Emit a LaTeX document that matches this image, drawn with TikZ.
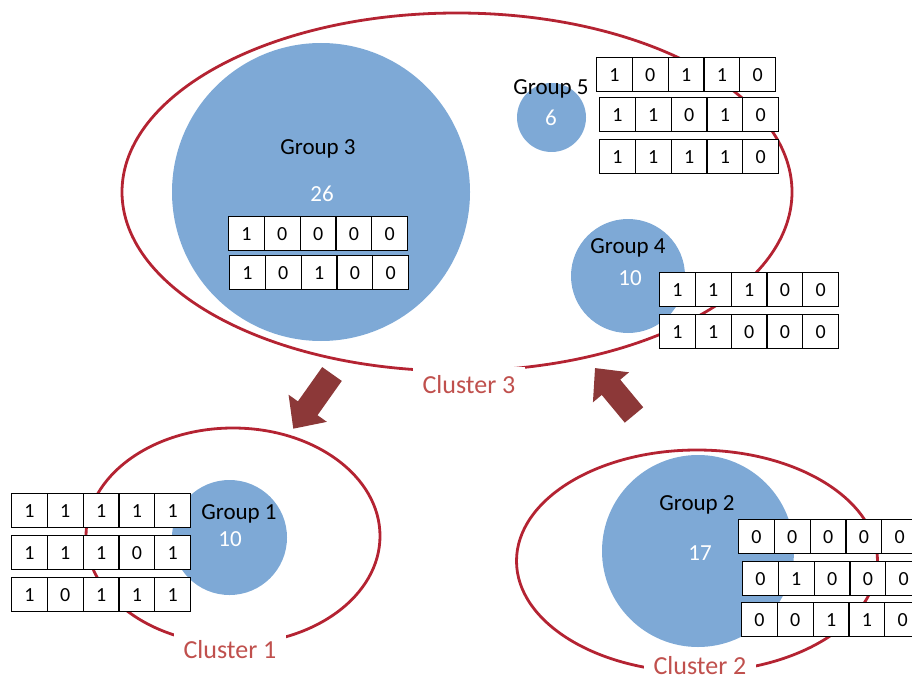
\documentclass[tikz,border=0pt]{standalone}
\usepackage{fontspec}
\setmainfont{Carlito}
\usetikzlibrary{calc,shapes.geometric}

\definecolor{groupblue}{RGB}{126,169,214}
\definecolor{clusterline}{RGB}{180,35,50}
\definecolor{clustertext}{RGB}{192,80,77}
\definecolor{arrowred}{RGB}{140,56,56}

\tikzset{
  clusterring/.style={ellipse, draw=clusterline, line width=2.8pt, inner sep=0pt},
  group/.style={circle, fill=groupblue, inner sep=0pt, minimum size=#1},
  grouplabel/.style={anchor=base, inner sep=0pt, text=black, font=\fontsize{23}{27}\selectfont},
  groupsize/.style={anchor=base, inner sep=0pt, text=white, font=\fontsize{23}{27}\selectfont},
  bitcell/.style={draw=black, line width=1.2pt, fill=white, minimum width=35.8pt,
    minimum height=34pt, inner sep=0pt, anchor=north west, font=\fontsize{20}{24}\selectfont},
  clusterlabel/.style={anchor=base, fill=white, text=clustertext, inner xsep=10pt,
    inner ysep=8pt, font=\fontsize{26}{30}\selectfont},
  blockarrow/.style={fill=arrowred},
}

% one row of five bit cells: name prefix, top-left corner, bits
\newcommand\bitrow[3]{%
  \foreach \b [count=\i from 0] in {#3}
    \node[bitcell] (#1-\i) at ($(#2)+(\i*35.8,0)$) {\b};}

% thick block arrow: tail midpoint, direction, total length
\newcommand\blockarrow[3]{%
  \fill[blockarrow, shift={(#1)}, rotate=#2]
    (0,-12) -- (#3-25,-12) -- (#3-25,-23.5) -- (#3,0) -- (#3-25,23.5)
    -- (#3-25,12) -- (0,12) -- cycle;}

\begin{document}
\begin{tikzpicture}[x=1pt,y=-1pt]
\useasboundingbox (0,0) rectangle (912,679);
\clip (0,0) rectangle (912,679);

% clusters
\node[clusterring, minimum width=670pt, minimum height=358pt] (c3) at (457,192) {};
\node[clusterring, minimum width=294pt, minimum height=216pt] (c1) at (233,536) {};
\node[clusterring, minimum width=361pt, minimum height=222pt] (c2) at (697,561) {};

% groups
\node[group=298pt] (g3) at (321,192) {};
\node[group=69pt]  (g5) at (551.5,117.5) {};
\node[group=114pt] (g4) at (628,276) {};
\node[group=115pt] (g1) at (229.5,537.5) {};
\node[group=192pt] (g2) at (698,551) {};

% moves between clusters
\blockarrow{332,374}{234.7}{67}
\blockarrow{634,415}{129.7}{61}

% group names and sizes
\node[grouplabel] (g3name) at (318,155) {Group 3};
\node[groupsize]  (g3size) at (322,201) {26};
\node[grouplabel] (g5name) at (551,95) {Group 5};
\node[groupsize]  (g5size) at (551,126) {6};
\node[grouplabel] (g4name) at (628,253) {Group 4};
\node[groupsize]  (g4size) at (630,285) {10};
\node[grouplabel] (g1name) at (239,519) {Group 1};
\node[groupsize]  (g1size) at (230,546) {10};
\node[grouplabel] (g2name) at (697,510) {Group 2};
\node[groupsize]  (g2size) at (700,560) {17};

% bit vectors
\bitrow{g3a}{228,216}{1,0,0,0,0}
\bitrow{g3b}{229,255}{1,0,1,0,0}
\bitrow{g5a}{596,57}{1,0,1,1,0}
\bitrow{g5b}{599,97}{1,1,0,1,0}
\bitrow{g5c}{599,139}{1,1,1,1,0}
\bitrow{g4a}{659,272}{1,1,1,0,0}
\bitrow{g4b}{659,314}{1,1,0,0,0}
\bitrow{g1a}{11,493}{1,1,1,1,1}
\bitrow{g1b}{11,535}{1,1,1,0,1}
\bitrow{g1c}{11,577}{1,0,1,1,1}
\bitrow{g2a}{738,519}{0,0,0,0,0}
\bitrow{g2b}{742,561}{0,1,0,0,0}
\bitrow{g2c}{741,602}{0,0,1,1,0}

% cluster names
\node[clusterlabel] (c3name) at (469,393) {Cluster 3};
\node[clusterlabel] (c1name) at (230,658) {Cluster 1};
\node[clusterlabel, inner ysep=2pt] (c2name) at (700,674) {Cluster 2};
\end{tikzpicture}
\end{document}
